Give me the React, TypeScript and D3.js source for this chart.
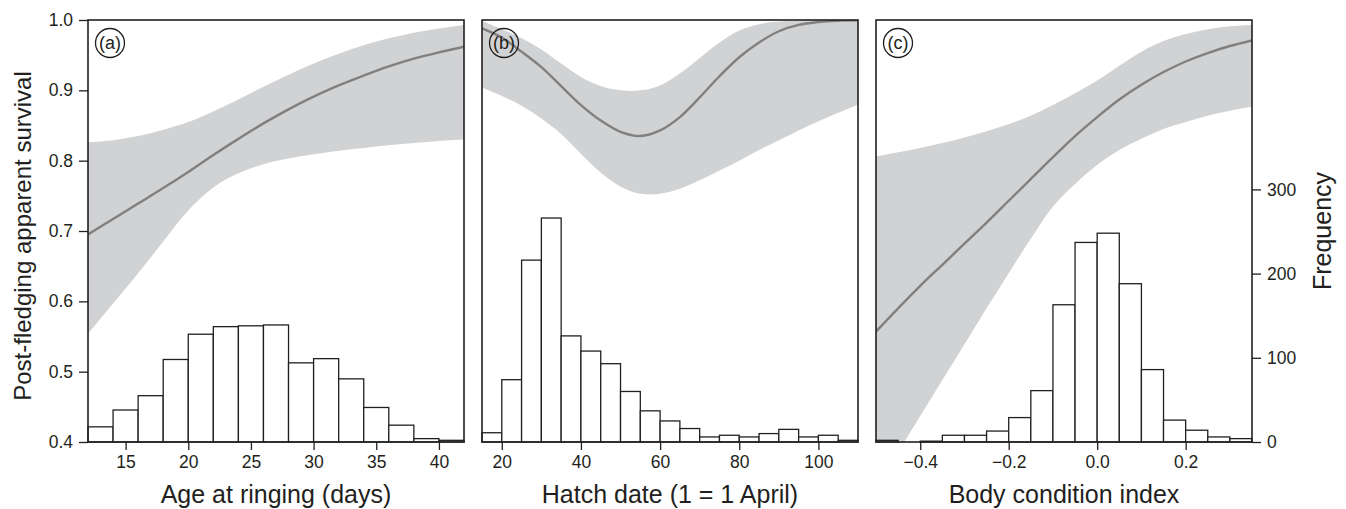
import React, { useRef, useEffect } from "react";
import * as d3 from "d3";

// panel (a): age at ringing
const ageX = [12, 14, 16, 18, 20, 22, 24, 26, 28, 30, 32, 34, 36, 38, 40, 42];
const ageFit = [0.695, 0.717, 0.739, 0.761, 0.784, 0.808, 0.831, 0.853, 0.873, 0.891, 0.907, 0.921, 0.934, 0.945, 0.954, 0.962];
const ageLo = [0.554, 0.597, 0.64, 0.685, 0.729, 0.762, 0.782, 0.795, 0.803, 0.809, 0.814, 0.818, 0.822, 0.825, 0.828, 0.83];
const ageHi = [0.826, 0.829, 0.835, 0.844, 0.855, 0.87, 0.887, 0.905, 0.922, 0.938, 0.952, 0.964, 0.974, 0.982, 0.988, 0.993];
const ageBins = [12, 14, 16, 18, 20, 22, 24, 26, 28, 30, 32, 34, 36, 38, 40];
const ageCounts = [18, 38, 55, 98, 128, 137, 138, 139, 94, 99, 75, 41, 20, 4, 2];

// panel (b): hatch date
const dateX = [15, 20, 25, 30, 35, 40, 45, 50, 55, 60, 65, 70, 75, 80, 85, 90, 95, 100, 105, 110];
const dateFit = [0.988, 0.975, 0.955, 0.933, 0.906, 0.879, 0.857, 0.841, 0.835, 0.843, 0.862, 0.89, 0.92, 0.947, 0.968, 0.984, 0.993, 0.997, 0.999, 0.9995];
const dateLo = [0.904, 0.892, 0.878, 0.86, 0.838, 0.81, 0.783, 0.763, 0.753, 0.753, 0.76, 0.772, 0.786, 0.8, 0.815, 0.829, 0.843, 0.856, 0.868, 0.88];
const dateHi = [0.999, 0.987, 0.974, 0.958, 0.938, 0.919, 0.906, 0.9, 0.9, 0.907, 0.924, 0.946, 0.968, 0.985, 0.994, 0.998, 0.999, 1.0, 1.0, 1.0];
const dateBins = [15, 20, 25, 30, 35, 40, 45, 50, 55, 60, 65, 70, 75, 80, 85, 90, 95, 100, 105];
const dateCounts = [11, 74, 216, 266, 126, 108, 93, 60, 37, 25, 16, 6, 8, 6, 10, 15, 6, 8, 2];

// panel (c): body condition index
const bciX = [-0.5, -0.45, -0.4, -0.35, -0.3, -0.25, -0.2, -0.15, -0.1, -0.05, 0, 0.05, 0.1, 0.15, 0.2, 0.25, 0.3, 0.35];
const bciFit = [0.557, 0.59, 0.622, 0.652, 0.682, 0.712, 0.743, 0.774, 0.805, 0.835, 0.862, 0.887, 0.908, 0.926, 0.941, 0.953, 0.963, 0.971];
const bciLo = [0.335, 0.386, 0.437, 0.488, 0.539, 0.59, 0.64, 0.689, 0.735, 0.767, 0.794, 0.815, 0.831, 0.845, 0.855, 0.864, 0.871, 0.877];
const bciHi = [0.806, 0.812, 0.818, 0.825, 0.833, 0.842, 0.852, 0.864, 0.879, 0.896, 0.914, 0.935, 0.955, 0.97, 0.98, 0.987, 0.991, 0.993];
const bciBins = [-0.5, -0.45, -0.4, -0.35, -0.3, -0.25, -0.2, -0.15, -0.1, -0.05, 0, 0.05, 0.1, 0.15, 0.2, 0.25, 0.3];
const bciCounts = [2, 0, 1, 8, 8, 13, 29, 61, 163, 237, 248, 188, 86, 26, 14, 6, 4];

const survivalTicks = [0.4, 0.5, 0.6, 0.7, 0.8, 0.9, 1.0];
const freqTicks = [0, 100, 200, 300];

const panels = [
  { tag: "(a)", xs: ageX, fit: ageFit, lo: ageLo, hi: ageHi, bins: ageBins, counts: ageCounts, binW: 2,
    domain: [12, 42], ticks: [15, 20, 25, 30, 35, 40], fmt: "d", title: "Age at ringing (days)" },
  { tag: "(b)", xs: dateX, fit: dateFit, lo: dateLo, hi: dateHi, bins: dateBins, counts: dateCounts, binW: 5,
    domain: [15, 110], ticks: [20, 40, 60, 80, 100], fmt: "d", title: "Hatch date (1 = 1 April)" },
  { tag: "(c)", xs: bciX, fit: bciFit, lo: bciLo, hi: bciHi, bins: bciBins, counts: bciCounts, binW: 0.05,
    domain: [-0.5, 0.35], ticks: [-0.4, -0.2, 0, 0.2], fmt: ".1f", title: "Body condition index" },
];

const FONT = "'Liberation Sans', Arial, Helvetica, sans-serif";
const INK = "#231f20";

export default function App() {
  const svgRef = useRef<SVGSVGElement>(null);

  useEffect(() => {
    const svg = d3.select(svgRef.current);
    svg.selectAll("*").remove();

    const top = 20, bottom = 442;
    const lefts = [88, 482, 876];
    const pw = 376;

    const y = d3.scaleLinear().domain([0.4, 1]).range([bottom, top]);
    const f = d3.scaleLinear().domain([0, 500]).range([bottom, 21]);
    const smooth = d3.curveCatmullRom.alpha(0.5);

    panels.forEach((p, i) => {
      const x0 = lefts[i];
      const x = d3.scaleLinear().domain(p.domain).range([x0, x0 + pw]);
      const g = svg.append("g");

      g.append("clipPath").attr("id", "clip" + i)
        .append("rect").attr("x", x0).attr("y", top).attr("width", pw).attr("height", bottom - top);

      const pts = p.xs.map((v, k) => ({ x: v, fit: p.fit[k], lo: p.lo[k], hi: p.hi[k] }));

      // confidence band
      g.append("path")
        .datum(pts)
        .attr("clip-path", `url(#clip${i})`)
        .attr("fill", "#d1d2d4")
        .attr("d", d3.area<any>().x(d => x(d.x)).y0(d => y(d.lo)).y1(d => y(d.hi)).curve(smooth));

      // fitted line
      g.append("path")
        .datum(pts)
        .attr("clip-path", `url(#clip${i})`)
        .attr("fill", "none")
        .attr("stroke", "#808080")
        .attr("stroke-width", 2.4)
        .attr("d", d3.line<any>().x(d => x(d.x)).y(d => y(d.fit)).curve(smooth));

      // histogram
      g.selectAll(".bar")
        .data(p.bins.map((b, k) => ({ b, c: p.counts[k] })).filter(d => d.c > 0))
        .join("rect")
        .attr("class", "bar")
        .attr("x", d => x(d.b))
        .attr("width", d => x(d.b + p.binW) - x(d.b))
        .attr("y", d => f(d.c))
        .attr("height", d => bottom - f(d.c))
        .attr("fill", "white")
        .attr("stroke", INK)
        .attr("stroke-width", 1.3);

      // frame
      g.append("rect")
        .attr("x", x0).attr("y", top).attr("width", pw).attr("height", bottom - top)
        .attr("fill", "none").attr("stroke", INK).attr("stroke-width", 1.6);

      // bottom axis
      const ax = g.append("g").attr("transform", `translate(0,${bottom})`)
        .call(d3.axisBottom(x).tickValues(p.ticks).tickFormat(d3.format(p.fmt) as any).tickSize(8).tickPadding(6));
      ax.select(".domain").remove();
      ax.selectAll("line").attr("stroke", INK).attr("stroke-width", 1.3);
      ax.selectAll("text").attr("font-size", 17.5).attr("font-family", FONT).attr("fill", INK);

      g.append("text")
        .attr("x", x0 + pw / 2).attr("y", 503)
        .attr("text-anchor", "middle")
        .attr("font-size", 25).attr("font-family", FONT).attr("fill", INK)
        .text(p.title);

      // panel tag
      g.append("circle")
        .attr("cx", x0 + 22).attr("cy", 43).attr("r", 14.5)
        .attr("fill", "none").attr("stroke", INK).attr("stroke-width", 1.3);
      g.append("text")
        .attr("x", x0 + 22).attr("y", 43).attr("dy", "0.35em")
        .attr("text-anchor", "middle")
        .attr("font-size", 18).attr("font-family", FONT).attr("fill", INK)
        .text(p.tag);

      if (i === 0) {
        const ay = g.append("g").attr("transform", `translate(${x0},0)`)
          .call(d3.axisLeft(y).tickValues(survivalTicks).tickFormat(d3.format(".1f") as any).tickSize(9).tickPadding(6));
        ay.select(".domain").remove();
        ay.selectAll("line").attr("stroke", INK).attr("stroke-width", 1.3);
        ay.selectAll("text").attr("font-size", 17.5).attr("font-family", FONT).attr("fill", INK);
        g.append("text")
          .attr("transform", `translate(31,236) rotate(-90)`)
          .attr("text-anchor", "middle")
          .attr("font-size", 24).attr("font-family", FONT).attr("fill", INK)
          .text("Post-fledging apparent survival");
      }
      if (i === 2) {
        const ar = g.append("g").attr("transform", `translate(${x0 + pw},0)`)
          .call(d3.axisRight(f).tickValues(freqTicks).tickSize(9).tickPadding(6));
        ar.select(".domain").remove();
        ar.selectAll("line").attr("stroke", INK).attr("stroke-width", 1.3);
        ar.selectAll("text").attr("font-size", 17.5).attr("font-family", FONT).attr("fill", INK);
        g.append("text")
          .attr("transform", `translate(1331,231) rotate(-90)`)
          .attr("text-anchor", "middle")
          .attr("font-size", 25).attr("font-family", FONT).attr("fill", INK)
          .text("Frequency");
      }
    });
  }, []);

  return (
    <svg
      ref={svgRef}
      width={1346}
      height={509}
      style={{ position: "absolute", left: 0, top: 0, background: "white" }}
    />
  );
}
